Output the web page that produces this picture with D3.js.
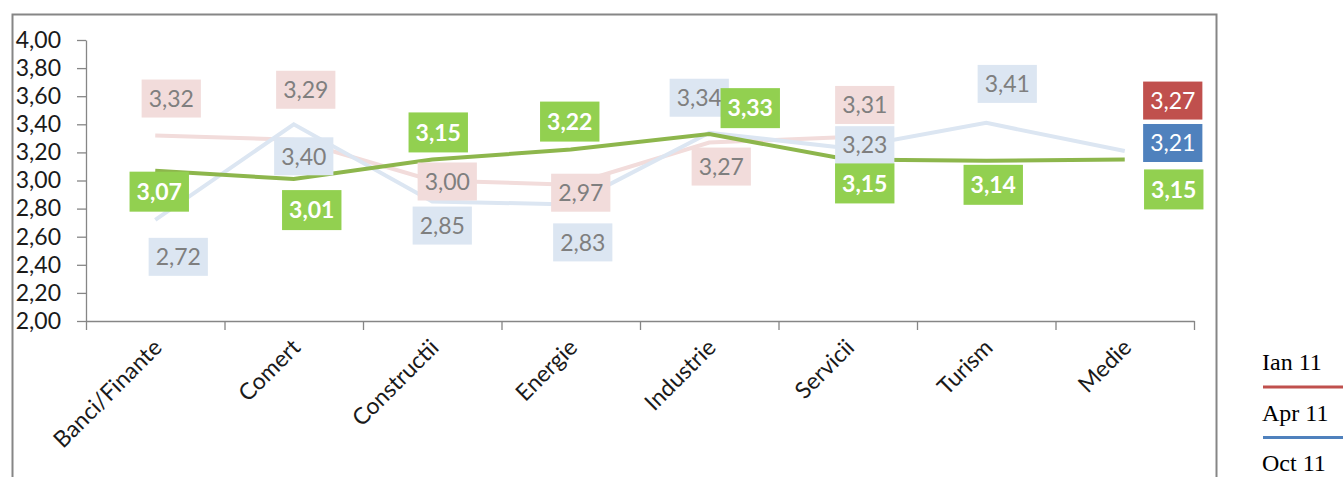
<!DOCTYPE html>
<html>
<head>
<meta charset="utf-8">
<script src="https://cdn.jsdelivr.net/npm/d3@7"></script>
<style>
  body { margin: 0; background: #fff; }
  svg { display: block; }
</style>
</head>
<body>
<div id="chart"></div>
<script>
// chart values
const categories = ["Banci/Finante", "Comert", "Constructii", "Energie", "Industrie", "Servicii", "Turism", "Medie"];
const ianValues = [3.32, 3.29, 3.00, 2.97, 3.27, 3.31, null, 3.27];
const aprValues = [2.72, 3.40, 2.85, 2.83, 3.34, 3.23, 3.41, 3.21];
const octValues = [3.07, 3.01, 3.15, 3.22, 3.33, 3.15, 3.14, 3.15];
const yTicks = [2.00, 2.20, 2.40, 2.60, 2.80, 3.00, 3.20, 3.40, 3.60, 3.80, 4.00];
const seriesNames = ["Ian 11", "Apr 11", "Oct 11"];

// label placement (pixel offsets from the point, like the manually moved excel labels)
const ianLabelOffsets = [[16, -37], [12, -50], [15, 1], [10, 8], [12, 24], [17, -32], null, [48, -42]];
const aprLabelOffsets = [[23, 37], [10, 32], [10, 24], [12, 38], [-10, -35], [17, -3], [21, -39], [48, -8]];
const octLabelOffsets = [[4, 21], [18, 31], [6, -27], [-1, -28], [41, -26], [17, 24], [7, 24], [49, 30]];

let width = 1343, height = 477;
let plot = {left: 86, right: 1194, top: 40, bottom: 321};

let svg = d3.select("#chart").append("svg")
    .attr("width", width)
    .attr("height", height);

// outer frame of the chart area
svg.append("rect")
    .attr("x", 12.5).attr("y", 14.5)
    .attr("width", 1204).attr("height", 520)
    .attr("fill", "none")
    .attr("stroke", "#868686")
    .attr("stroke-width", 2);

let locale = d3.formatLocale({decimal: ",", thousands: ".", grouping: [3], currency: ["", ""]});
let fmt = locale.format(".2f");

let xScale = d3.scaleBand().domain(categories).range([plot.left, plot.right]);
let yScale = d3.scaleLinear().domain([2, 4]).range([plot.bottom, plot.top]);

// y axis
let yAxis = svg.append("g")
    .attr("class", "axis axis--y")
    .attr("transform", "translate(" + plot.left + ",0)")
    .call(d3.axisLeft(yScale).tickValues(yTicks).tickSize(9).tickSizeOuter(0).tickPadding(16).tickFormat(fmt));

// x axis: ticks on the category boundaries
let edgeScale = d3.scaleLinear().domain([0, categories.length]).range([plot.left, plot.right]);
let xAxis = svg.append("g")
    .attr("class", "axis axis--x")
    .attr("transform", "translate(0," + plot.bottom + ")")
    .call(d3.axisBottom(edgeScale).tickValues(d3.range(categories.length + 1)).tickSize(9).tickSizeOuter(0).tickFormat(""));

svg.selectAll(".axis path, .axis line")
    .attr("stroke", "#868686")
    .attr("stroke-width", 1.3);

yAxis.selectAll("text")
    .attr("font-family", "Lato, sans-serif")
    .attr("font-size", 23)
    .attr("fill", "#1a1a1a");

svg.append("g").selectAll("text")
    .data(categories).enter()
    .append("text")
    .attr("transform", function(d){
        let cx = xScale(d) + xScale.bandwidth() / 2;
        return "translate(" + (cx + 8) + "," + (plot.bottom + 28) + ") rotate(-45)";
    })
    .attr("text-anchor", "end")
    .attr("font-family", "Lato, sans-serif")
    .attr("font-size", 23)
    .attr("fill", "#1a1a1a")
    .text(d => d);

// lines
let series = [
    {name: seriesNames[0], values: ianValues, offsets: ianLabelOffsets, line: "#f2dcdb", box: "#f2dcdb", text: "#7f7f7f", weight: "normal"},
    {name: seriesNames[1], values: aprValues, offsets: aprLabelOffsets, line: "#dce6f2", box: "#dce6f2", text: "#7f7f7f", weight: "normal"},
    {name: seriesNames[2], values: octValues, offsets: octLabelOffsets, line: "#8db64c", box: "#92d050", text: "#ffffff", weight: "bold"}
];
// the Medie labels of the first two series are drawn solid
let lastBox = ["#c0504d", "#4f81bd", "#92d050"];

let line = d3.line()
    .defined(d => d.v != null)
    .x(d => xScale(d.c) + xScale.bandwidth() / 2)
    .y(d => yScale(d.v));

series.forEach(function(s){
    let pts = s.values.map((v, i) => ({c: categories[i], v: v}));
    svg.append("path")
        .datum(pts)
        .attr("d", line)
        .attr("fill", "none")
        .attr("stroke", s.line)
        .attr("stroke-width", 4);
});

// data labels
series.forEach(function(s, si){
    let g = svg.append("g");
    s.values.forEach(function(v, i){
        if (v == null) return;
        let off = s.offsets[i];
        let cx = xScale(categories[i]) + xScale.bandwidth() / 2 + off[0];
        let cy = yScale(v) + off[1];
        let isLast = i == categories.length - 1;
        let lg = g.append("g");
        let rect = lg.append("rect")
            .attr("fill", isLast ? lastBox[si] : s.box);
        let t = lg.append("text")
            .attr("x", cx)
            .attr("y", cy)
            .attr("dy", "0.36em")
            .attr("text-anchor", "middle")
            .attr("font-family", "Lato, sans-serif")
            .attr("font-size", 23)
            .attr("font-weight", s.weight)
            .attr("fill", isLast ? "#ffffff" : s.text)
            .text(fmt(v));
        let bw = t.node().getBBox().width + 14;
        let bh = s.weight == "bold" ? 40 : 38;
        rect.attr("x", cx - bw / 2).attr("y", cy - bh / 2)
            .attr("width", bw).attr("height", bh);
    });
});

// legend (cut off at the right edge)
let legend = svg.append("g");
let legendColors = ["#c0504d", "#4f81bd", "#9bbb59"];
seriesNames.forEach(function(name, i){
    let base = 370 + i * 50.5;
    legend.append("text")
        .attr("x", 1262)
        .attr("y", base)
        .attr("font-family", "Liberation Serif, serif")
        .attr("font-size", 24)
        .attr("fill", "#000")
        .text(name);
    legend.append("line")
        .attr("x1", 1263).attr("x2", 1343)
        .attr("y1", base + 17).attr("y2", base + 17)
        .attr("stroke", legendColors[i])
        .attr("stroke-width", 3);
});
</script>
</body>
</html>
